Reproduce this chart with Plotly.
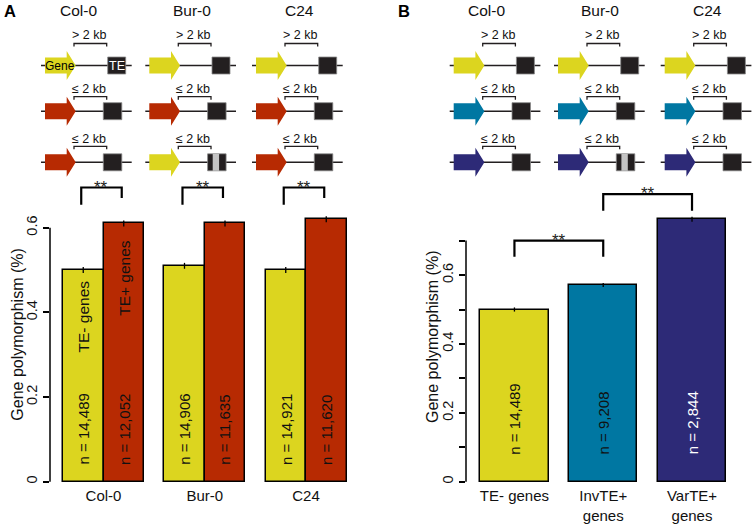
import plotly.graph_objects as go

# ---------------- data ----------------
groups_A = ["Col-0", "Bur-0", "C24"]
te_minus_A = [0.50, 0.51, 0.50]
te_plus_A = [0.61, 0.61, 0.62]
err_minus_A = [0.007, 0.007, 0.007]
err_plus_A = [0.007, 0.007, 0.007]
n_minus_A = ["n = 14,489", "n = 14,906", "n = 14,921"]
n_plus_A = ["n = 12,052", "n = 11,635", "n = 11,620"]

cats_B = ["TE- genes", "InvTE+<br>genes", "VarTE+<br>genes"]
vals_B = [0.50, 0.571, 0.762]
err_B = [0.006, 0.006, 0.007]
n_B = ["n = 14,489", "n = 9,208", "n = 2,844"]

ticks_A = [0, 0.2, 0.4, 0.6]
ticklabels_A = ["0", "0.2", "0.4", "0.6"]
ticks_B = [0, 0.1, 0.2, 0.3, 0.4, 0.5, 0.6, 0.7]
ticklabels_B = ["0", "", "0.2", "", "0.4", "", "0.6", ""]

YEL = "#dcd51f"
RED = "#b72a02"
BLU = "#0077a2"
NAV = "#2d2a77"
BLK = "#231f20"
FONT = "Liberation Sans, Arial, sans-serif"

W, H = 754, 525


def px(x):
    return x / W


def py(y):
    return 1 - y / H


fig = go.Figure()

# ---------------- panel A bars ----------------
xs_minus = [1 + 2.5 * g for g in range(3)]
xs_plus = [2 + 2.5 * g for g in range(3)]
fig.add_trace(go.Bar(x=xs_minus, y=te_minus_A, width=1, marker=dict(color=YEL, line=dict(color="black", width=1.5)),
                     error_y=dict(type="data", array=err_minus_A, color="black", thickness=1.3, width=0),
                     xaxis="x", yaxis="y", showlegend=False, hoverinfo="skip"))
fig.add_trace(go.Bar(x=xs_plus, y=te_plus_A, width=1, marker=dict(color=RED, line=dict(color="black", width=1.5)),
                     error_y=dict(type="data", array=err_plus_A, color="black", thickness=1.3, width=0),
                     xaxis="x", yaxis="y", showlegend=False, hoverinfo="skip"))

# ---------------- panel B bars ----------------
xs_B = [0.8 + 1.3 * i for i in range(3)]
fig.add_trace(go.Bar(x=xs_B, y=vals_B, width=1, marker=dict(color=[YEL, BLU, NAV], line=dict(color="black", width=1.5)),
                     error_y=dict(type="data", array=err_B, color="black", thickness=1.3, width=0),
                     xaxis="x2", yaxis="y2", showlegend=False, hoverinfo="skip"))

shapes = []
ann = []


def txt(x, y, text, size, color="#111", angle=0, xref="paper", yref="paper", xa="center", ya="middle", **kw):
    d = dict(xref=xref, yref=yref, x=x, y=y, text=text, showarrow=False, textangle=angle,
             xanchor=xa, yanchor=ya, font=dict(family=FONT, size=size, color=color))
    d.update(kw)
    ann.append(d)


# manual y axis lines (R style, only spanning tick range)
shapes.append(dict(type="line", xref="paper", yref="y", x0=px(50), x1=px(50), y0=0, y1=0.6,
                   line=dict(color="black", width=1.5)))
shapes.append(dict(type="line", xref="paper", yref="y2", x0=px(466), x1=px(466), y0=0, y1=0.7,
                   line=dict(color="black", width=1.5)))

# significance brackets
for g in range(3):
    a, b = xs_minus[g] - 0.05, xs_plus[g] - 0.05
    shapes.append(dict(type="path", xref="x", yref="y",
                       path=f"M {a} 0.654 L {a} 0.695 L {b} 0.695 L {b} 0.670",
                       line=dict(color="black", width=2.2)))
    txt((a + b) / 2, 0.695, "**", 17, "#222", xref="x", yref="y", yshift=0.5)

brk_B = [(0, 1, 0.70, 0.653), (1, 2, 0.835, 0.787)]
for i, j, top, leg in brk_B:
    a, b = xs_B[i], xs_B[j]
    shapes.append(dict(type="path", xref="x2", yref="y2",
                       path=f"M {a} {leg} L {a} {top} L {b} {top} L {b} {leg}",
                       line=dict(color="black", width=2.2)))
    txt((a + b) / 2, top, "**", 17, "#222", xref="x2", yref="y2", yshift=0.5)

# texts inside bars
for g in range(3):
    txt(xs_minus[g], 0.0354, n_minus_A[g], 15, angle=-90, xref="x", yref="y", ya="bottom")
    txt(xs_plus[g], 0.0354, n_plus_A[g], 15, angle=-90, xref="x", yref="y", ya="bottom")
txt(xs_minus[0], 0.391, "TE- genes", 15.5, angle=-90, xref="x", yref="y")
txt(xs_plus[0], 0.481, "TE+ genes", 15.5, angle=-90, xref="x", yref="y")
for i in range(3):
    txt(xs_B[i], 0.0726, n_B[i], 15, color="white" if i == 2 else "#111", angle=-90,
        xref="x2", yref="y2", ya="bottom")

# axis titles
txt(px(16.7), py(334), "Gene polymorphism (%)", 16, angle=-90)
txt(px(432), py(337), "Gene polymorphism (%)", 16, angle=-90)

# panel letters and headers
txt(px(9.5), py(11), "<b>A</b>", 16.5, "black")
txt(px(403.7), py(11), "<b>B</b>", 16.5, "black")
headers_x_A = [78, 191.7, 299]
headers_x_B = [486.3, 599.7, 707]
for i in range(3):
    txt(px(headers_x_A[i]), py(11), groups_A[i], 15.5)
    txt(px(headers_x_B[i]), py(11), groups_A[i], 15.5)

# ---------------- gene / TE diagrams ----------------
row_y = [65.5, 111.2, 162.3]
brk_y = [43.5, 96.7, 146.3]
lab_y = [35.5, 89.3, 139.3]
lab_txt = ["&gt; 2 kb", "≤ 2 kb", "≤ 2 kb"]
origins_A = [45, 149.3, 256]
origins_B = [453.7, 558, 664.7]
arrow_cols_A = [[YEL, YEL, YEL], [RED, RED, RED], [RED, YEL, RED]]
arrow_cols_B = [[YEL, YEL, YEL], [BLU, BLU, BLU], [NAV, NAV, NAV]]


def pth(points):
    return "M " + " L ".join(f"{px(x):.5f} {py(y):.5f}" for x, y in points) + " Z"


def diagram(ox, r, col, var_te):
    y = row_y[r]
    shapes.append(dict(type="line", xref="paper", yref="paper", x0=px(ox - 4), x1=px(ox + 86.7),
                       y0=py(y), y1=py(y), line=dict(color=BLK, width=1.5)))
    shapes.append(dict(type="path", xref="paper", yref="paper",
                       path=pth([(ox, y - 8), (ox + 21.7, y - 8), (ox + 21.7, y - 14.5), (ox + 30.7, y),
                                 (ox + 21.7, y + 14.5), (ox + 21.7, y + 8), (ox, y + 8)]),
                       fillcolor=col, line=dict(width=0)))
    bx0, bx1 = (ox + 62.7, ox + 80.7) if r == 0 else (ox + 58.3, ox + 76.8)
    shapes.append(dict(type="rect", xref="paper", yref="paper", x0=px(bx0), x1=px(bx1),
                       y0=py(y + 8.5), y1=py(y - 8.5), fillcolor=BLK, line=dict(color="#8a8a8a", width=0.8)))
    if var_te:
        shapes.append(dict(type="rect", xref="paper", yref="paper", x0=px(ox + 63.4), x1=px(ox + 69.8),
                           y0=py(y + 8.5), y1=py(y - 8.5), fillcolor="#c4c4c4", line=dict(width=0)))
    by = brk_y[r]
    shapes.append(dict(type="path", xref="paper", yref="paper",
                       path=f"M {px(ox + 29):.5f} {py(by + 3):.5f} L {px(ox + 29):.5f} {py(by):.5f} "
                            f"L {px(ox + 61.7):.5f} {py(by):.5f} L {px(ox + 61.7):.5f} {py(by + 3):.5f}",
                       line=dict(color=BLK, width=1.3)))
    txt(px(ox + 44), py(lab_y[r]), lab_txt[r], 12.5)


for c in range(3):
    for r in range(3):
        diagram(origins_A[c], r, arrow_cols_A[r][c], var_te=(r == 2 and c == 1))
        diagram(origins_B[c], r, arrow_cols_B[r][c], var_te=(r == 2 and c == 1))

txt(px(59.7), py(66), "Gene", 12, "black")
txt(px(116.5), py(66), "TE", 12.5, "white")

# ---------------- layout ----------------
axis_common = dict(showgrid=False, zeroline=False, showline=False, fixedrange=True)
fig.update_layout(
    width=W, height=H, margin=dict(l=0, r=0, t=0, b=0),
    paper_bgcolor="white", plot_bgcolor="white", bargap=0,
    font=dict(family=FONT, size=15, color="#111"),
    xaxis=dict(domain=[px(50), px(355)], range=[(50 - 42.75) / 40.5, (355 - 42.75) / 40.5],
               tickvals=[1.5 + 2.5 * g for g in range(3)], ticktext=groups_A, ticks="",
               tickfont=dict(size=15), anchor="y", **axis_common),
    yaxis=dict(domain=[py(485), py(180)], range=[-3.3 / 423.3, (481.7 - 180) / 423.3],
               tickvals=ticks_A, ticktext=ticklabels_A, ticks="outside", ticklen=6,
               tickwidth=1.5, tickcolor="black", tickangle=-90, tickfont=dict(size=14.5),
               anchor="x", **axis_common),
    xaxis2=dict(domain=[px(466), px(740)], range=[(466 - 459.8) / 68.3, (740 - 459.8) / 68.3],
                tickvals=xs_B, ticktext=cats_B, ticks="", tickfont=dict(size=15), anchor="y2", **axis_common),
    yaxis2=dict(domain=[py(485), py(180)], range=[-3.3 / 344.4, (481.7 - 180) / 344.4],
                tickvals=ticks_B, ticktext=ticklabels_B, ticks="outside", ticklen=6,
                tickwidth=1.5, tickcolor="black", tickangle=-90, tickfont=dict(size=14.5),
                anchor="x2", **axis_common),
    shapes=shapes, annotations=ann,
)

fig.write_html("out.html", config={"displayModeBar": False},
               post_script="document.body.style.margin='0';document.body.style.overflow='hidden';")
